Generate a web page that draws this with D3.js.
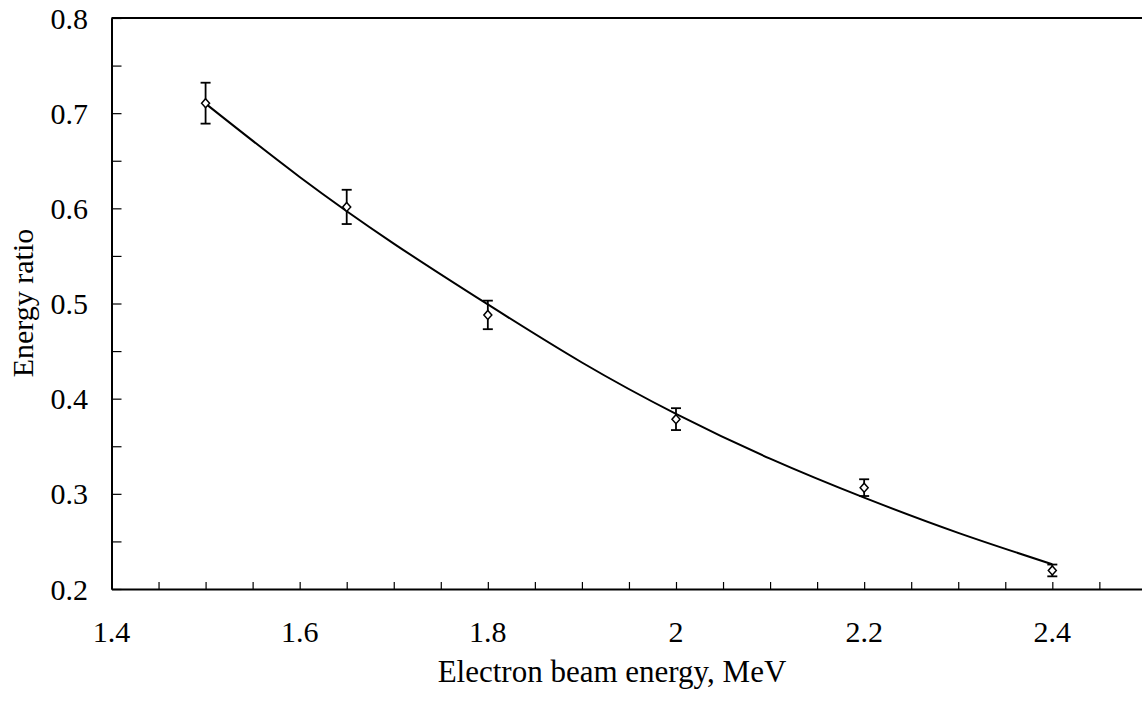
<!DOCTYPE html>
<html><head><meta charset="utf-8">
<script src="https://cdn.jsdelivr.net/npm/d3@7/dist/d3.min.js"></script>
<style>body{margin:0;background:#fff}svg{display:block}</style>
</head><body>
<script>
const energy = [1.5, 1.65, 1.8, 2.0, 2.2, 2.4];
const ratio = [0.7105, 0.6015, 0.488, 0.3785, 0.3065, 0.2195];
const errors = [0.0215, 0.018, 0.015, 0.0115, 0.0088, 0.0062];
const fitX = [1.5, 1.6, 1.7, 1.8, 1.9, 2.0, 2.1, 2.2, 2.3, 2.4];
const fitY = [0.710, 0.633, 0.563, 0.499, 0.438, 0.384, 0.337, 0.296, 0.259, 0.226];
const xTickLabels = [1.4, 1.6, 1.8, 2.0, 2.2, 2.4];
const yTickLabels = [0.2, 0.3, 0.4, 0.5, 0.6, 0.7, 0.8];

const W = 1142, H = 704;
const svg = d3.select("body").append("svg").attr("width", W).attr("height", H);
const x = d3.scaleLinear().domain([1.4, 2.5]).range([111.5, 1146.4]);
const y = d3.scaleLinear().domain([0.2, 0.8]).range([589, 18]);
const font = "'Liberation Serif','Times New Roman',serif";

// frame
svg.append("line").attr("x1", x(1.4)).attr("x2", x(2.5)).attr("y1", y(0.8)).attr("y2", y(0.8)).attr("stroke", "#000").attr("stroke-width", 2);

// x axis
const xAxis = d3.axisBottom(x).tickValues(d3.range(23).map(i => 1.4 + i * 0.05)).tickSizeInner(-7).tickSizeOuter(0).tickFormat("");
const gx = svg.append("g").attr("transform", `translate(0,${y(0.2)})`).call(xAxis);
gx.select(".domain").attr("stroke-width", 2);
gx.selectAll(".tick line").attr("stroke-width", 1.2);
svg.append("g").selectAll("text").data(xTickLabels).join("text")
  .attr("x", d => x(d)).attr("y", 642).attr("text-anchor", "middle")
  .attr("font-family", font).attr("font-size", 30).text(d => String(+d.toFixed(1)));

// y axis
const yAxis = d3.axisLeft(y).tickValues(d3.range(13).map(i => 0.2 + i * 0.05)).tickSizeInner(-10).tickSizeOuter(0).tickFormat("");
const gy = svg.append("g").attr("transform", `translate(${x(1.4)},0)`).call(yAxis);
gy.select(".domain").attr("stroke-width", 2);
gy.selectAll(".tick line").attr("stroke-width", 1.2);
svg.append("g").selectAll("text").data(yTickLabels).join("text")
  .attr("x", 88).attr("y", d => y(d)).attr("dy", "0.35em").attr("text-anchor", "end")
  .attr("font-family", font).attr("font-size", 30).text(d => d.toFixed(1));

// fitted curve
svg.append("path").datum(fitX.map((v, i) => [v, fitY[i]]))
  .attr("d", d3.line().x(d => x(d[0])).y(d => y(d[1])).curve(d3.curveNatural))
  .attr("fill", "none").attr("stroke", "#000").attr("stroke-width", 2);

// error bars
const pts = energy.map((e, i) => ({e, r: ratio[i], s: errors[i]}));
const eb = svg.append("g").attr("stroke", "#000").attr("stroke-width", 1.8);
eb.selectAll(".v").data(pts).join("line").attr("x1", d => x(d.e)).attr("x2", d => x(d.e))
  .attr("y1", d => y(d.r + d.s)).attr("y2", d => y(d.r - d.s));
eb.selectAll(".t").data(pts).join("line").attr("x1", d => x(d.e) - 5).attr("x2", d => x(d.e) + 5)
  .attr("y1", d => y(d.r + d.s)).attr("y2", d => y(d.r + d.s));
eb.selectAll(".b").data(pts).join("line").attr("x1", d => x(d.e) - 5).attr("x2", d => x(d.e) + 5)
  .attr("y1", d => y(d.r - d.s)).attr("y2", d => y(d.r - d.s));

// markers
svg.append("g").selectAll("path").data(pts).join("path")
  .attr("transform", d => `translate(${x(d.e)},${y(d.r)})`)
  .attr("d", "M0,-4.5L4,0L0,4.5L-4,0Z")
  .attr("fill", "#fff").attr("stroke", "#000").attr("stroke-width", 1.5);

// titles
svg.append("text").attr("x", 612).attr("y", 682).attr("text-anchor", "middle")
  .attr("font-family", font).attr("font-size", 31).text("Electron beam energy, MeV");
svg.append("text").attr("transform", "translate(33,303) rotate(-90)").attr("text-anchor", "middle")
  .attr("font-family", font).attr("font-size", 30).text("Energy ratio");
</script>
</body></html>
